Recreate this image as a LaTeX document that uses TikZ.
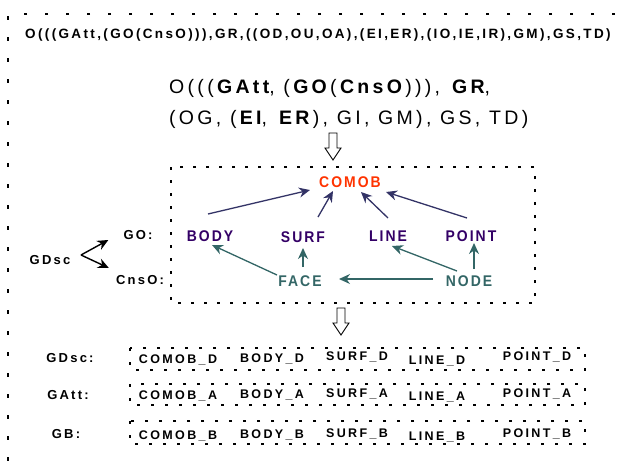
\documentclass[tikz,border=0pt]{standalone}
\usepackage{fontspec}
\setmainfont{Liberation Sans}
\newfontfamily\spaced[LetterSpace=17.5]{Liberation Sans}
\newfontfamily\sidefont[LetterSpace=17]{Liberation Sans}
\newfontfamily\widespaced[LetterSpace=17]{Liberation Sans}
\newfontfamily\narrowspaced[LetterSpace=13, FakeStretch=0.9]{Liberation Sans}
\newfontfamily\cellfont[LetterSpace=19]{Liberation Sans}
\usetikzlibrary{arrows.meta}

\definecolor{comobred}{HTML}{FF3300}
\definecolor{geompurple}{HTML}{330066}
\definecolor{topoteal}{HTML}{336666}
\definecolor{linknavy}{HTML}{333366}

\tikzset{
  frame/.style={line width=1.4pt, dash pattern=on 3.5pt off 17.5pt},
  boxdash/.style={line width=1.3pt, dash pattern=on 3pt off 10pt},
  rowdash/.style={line width=1.1pt, dash pattern=on 3pt off 11pt},
  formula/.style={inner sep=0pt, anchor=west, font=\spaced\fontsize{13.5}{15}\selectfont\bfseries},
  bigformula/.style={inner sep=0pt, anchor=west, font=\widespaced\fontsize{19.5}{22}\selectfont},
  comobtxt/.style={inner sep=0pt, text=comobred, font=\narrowspaced\fontsize{15.5}{17}\selectfont\bfseries},
  geomtxt/.style={inner sep=0pt, text=geompurple, font=\narrowspaced\fontsize{15.5}{17}\selectfont\bfseries},
  topotxt/.style={inner sep=0pt, text=topoteal, font=\narrowspaced\fontsize{15.5}{17}\selectfont\bfseries},
  sidetxt/.style={inner sep=0pt, font=\sidefont\fontsize{13}{15}\selectfont\bfseries},
  celltxt/.style={inner sep=0pt, font=\cellfont\fontsize{12.5}{14}\selectfont\bfseries},
  navyarrow/.style={draw=linknavy, line width=1.3pt, -{Stealth[length=11pt,width=10pt]}},
  tealarrow/.style={draw=topoteal, line width=1.3pt, -{Stealth[length=11pt,width=10pt]}},
  blackarrow/.style={draw=black, line width=1.4pt, -{Stealth[length=11pt,width=10pt]}},
  hollow/.style={draw=black, line width=0.9pt, fill=white, line join=miter}
}

\begin{document}
\begin{tikzpicture}[x=1pt, y=-1pt]
\useasboundingbox (0,0) rectangle (622,461);

% outer frame: top and left edges only
\draw[frame] (615,14) -- (8,14) -- (8,461);

% full expression
\node[formula] (expr) at (25,35) {O(((GAtt,(GO(CnsO))),GR,((OD,OU,OA),(EI,ER),(IO,IE,IR),GM),GS,TD)};

% reduced expression
\node[bigformula] (red1) at (169,88) {O(((\textbf{GAtt}, (\textbf{GO}(\textbf{CnsO}))), \textbf{GR},};
\node[bigformula] (red2) at (169,119) {(OG, (\textbf{EI}, \textbf{ER}), GI, GM), GS, TD)};

% hollow arrow down to the object graph
\draw[hollow] (329,133) -- (337,133) -- (337,148) -- (341,148) -- (333,160)
  -- (325,148) -- (329,148) -- cycle;

% object graph box
\draw[boxdash] (171,167) rectangle (535,303);

\node[comobtxt] (comob) at (350,182) {COMOB};
\node[geomtxt] (body)  at (210,236) {BODY};
\node[geomtxt] (surf)  at (303,237) {SURF};
\node[geomtxt] (line)  at (388,236) {LINE};
\node[geomtxt] (point) at (471,236) {POINT};
\node[topotxt] (face)  at (300,281) {FACE};
\node[topotxt] (nodeN) at (469,281) {NODE};

\draw[navyarrow] ([shift={(-2,-22)}]body.center) -- ([shift={(-40,8)}]comob.center);
\draw[navyarrow] ([shift={(15,-20)}]surf.center) -- ([shift={(-17,9)}]comob.center);
\draw[navyarrow] ([shift={(0,-18)}]line.center) -- ([shift={(11,10)}]comob.center);
\draw[navyarrow] ([shift={(-4,-18)}]point.center) -- ([shift={(36,10)}]comob.center);

\draw[tealarrow] ([shift={(-23,-6)}]face.center) -- ([shift={(2,9)}]body.center);
\draw[tealarrow] ([shift={(3,-14)}]face.center) -- ([shift={(0,11)}]surf.center);
\draw[tealarrow] ([shift={(-12,-10)}]nodeN.center) -- ([shift={(4,10)}]line.center);
\draw[tealarrow] ([shift={(5,-12)}]nodeN.center) -- ([shift={(3,7)}]point.center);
\draw[tealarrow] ([shift={(-36,-2)}]nodeN.center) -- ([shift={(39,-2)}]face.center);

% descriptor split
\node[sidetxt] (gdsc) at (50,260) {GDsc};
\node[sidetxt] (go)   at (138,235) {GO:};
\node[sidetxt] (cnso) at (140,280) {CnsO:};
\coordinate (split) at (81,255);
\draw[blackarrow] (split) -- ([shift={(-15,5)}]go.west);
\draw[blackarrow] (split) -- ([shift={(-7,-12)}]cnso.west);

% hollow arrow down to the tables
\draw[hollow] (337,308) -- (345,308) -- (345,323) -- (349,323) -- (341,335)
  -- (333,323) -- (337,323) -- cycle;

% tables
\node[sidetxt] (lgdsc) at (70,358) {GDsc:};
\node[sidetxt] (lgatt) at (68,395) {GAtt:};
\node[sidetxt] (lgb)   at (66,434) {GB:};

\draw[rowdash] (130,348) rectangle (585,370);
\draw[rowdash] (130,384) rectangle (585,405);
\draw[rowdash] (130,421) rectangle (585,444);

\node[celltxt] (cd) at (178,360) {COMOB\_D};
\node[celltxt] (bd) at (272,359) {BODY\_D};
\node[celltxt] (sd) at (357,357) {SURF\_D};
\node[celltxt] (ld) at (437,361) {LINE\_D};
\node[celltxt] (pd) at (537,357) {POINT\_D};

\node[celltxt] (ca) at (178,396) {COMOB\_A};
\node[celltxt] (ba) at (272,395) {BODY\_A};
\node[celltxt] (sa) at (357,394) {SURF\_A};
\node[celltxt] (la) at (437,397) {LINE\_A};
\node[celltxt] (pa) at (537,394) {POINT\_A};

\node[celltxt] (cb) at (178,436) {COMOB\_B};
\node[celltxt] (bb) at (272,435) {BODY\_B};
\node[celltxt] (sb) at (357,434) {SURF\_B};
\node[celltxt] (lb) at (437,437) {LINE\_B};
\node[celltxt] (pb) at (537,434) {POINT\_B};
\end{tikzpicture}
\end{document}
